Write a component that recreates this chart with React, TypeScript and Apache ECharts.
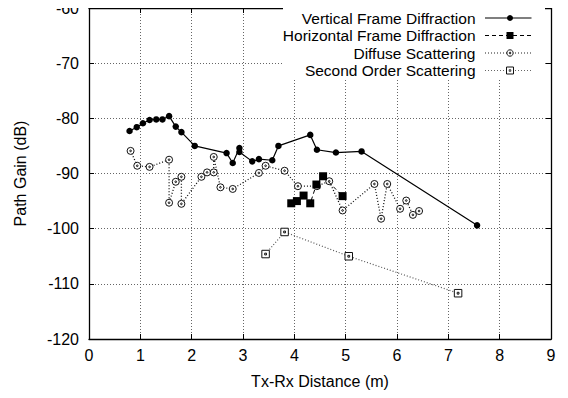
import React, { useEffect, useRef } from "react";
import * as echarts from "echarts";

const seriesNames = [
  "Vertical Frame Diffraction",
  "Horizontal Frame Diffraction",
  "Diffuse Scattering",
  "Second Order Scattering",
];

const verticalX = [0.79, 0.93, 1.05, 1.18, 1.31, 1.43, 1.56, 1.69, 1.8, 2.06, 2.68, 2.8, 2.93, 2.93, 3.18, 3.31, 3.57, 3.69, 4.31, 4.44, 4.81, 5.31, 7.56];
const verticalY = [-82.3, -81.6, -80.9, -80.3, -80.2, -80.2, -79.6, -81.5, -82.5, -85.0, -86.3, -88.1, -85.4, -86.1, -87.8, -87.4, -87.6, -85.0, -83.0, -85.7, -86.2, -86.0, -99.4];

const horizontalX = [3.94, 4.05, 4.18, 4.31, 4.43, 4.56, 4.94];
const horizontalY = [-95.4, -95.0, -94.0, -95.4, -92.0, -90.5, -94.1];

const diffuseX = [0.81, 0.94, 1.18, 1.56, 1.56, 1.69, 1.8, 1.8, 2.19, 2.3, 2.43, 2.43, 2.56, 2.8, 3.31, 3.44, 3.81, 4.07, 4.44, 4.68, 4.94, 5.56, 5.69, 5.81, 6.06, 6.18, 6.31, 6.43];
const diffuseY = [-85.9, -88.6, -88.8, -87.5, -95.3, -91.5, -90.6, -95.5, -90.6, -89.8, -89.8, -87.0, -92.5, -92.8, -89.9, -88.6, -89.5, -92.3, -92.3, -91.4, -96.7, -91.9, -98.2, -91.9, -96.4, -94.9, -97.5, -96.8];

const secondX = [3.44, 3.81, 5.06, 7.19];
const secondY = [-104.6, -100.6, -105.0, -111.7];

const xTicks = [0, 1, 2, 3, 4, 5, 6, 7, 8, 9];
const yTicks = [-120, -110, -100, -90, -80, -70, -60];

const FONT = "Liberation Sans, Arial, Helvetica, sans-serif";
const ringSymbol = "path://M0,-5A5,5 0 1,1 0,5A5,5 0 1,1 0,-5Z M0,-1.2A1.2,1.2 0 1,1 0,1.2A1.2,1.2 0 1,1 0,-1.2Z";
const boxSymbol = "path://M-5,-5L5,-5L5,5L-5,5Z M-1.2,-1.2L1.2,-1.2L1.2,1.2L-1.2,1.2Z";

const zip = (xs: number[], ys: number[]) => xs.map((x, i) => [x, ys[i]]);

export default function App() {
  const ref = useRef<HTMLDivElement>(null);
  useEffect(() => {
    if (!ref.current) return;
    const chart = echarts.init(ref.current, undefined, { renderer: "svg" });
    const gridLine = { show: true, lineStyle: { color: "#666", type: [1, 2] as any, width: 1 } };
    const axisLine = { show: true, onZero: false, lineStyle: { color: "#000", width: 1.3 } };
    const tick = { show: true, inside: true, length: 5, lineStyle: { color: "#000" } };
    const rows = [18, 35.5, 53, 70.5];
    const legendGraphics: any[] = [
      { type: "rect", z: 100, shape: { x: 283, y: 7, width: 262, height: 72 }, style: { fill: "#fff" } },
    ];
    const lineStyles = [
      { stroke: "#000", lineWidth: 1.2 },
      { stroke: "#000", lineWidth: 1, lineDash: [4, 3] },
      { stroke: "#222", lineWidth: 1.2, lineDash: [1, 2] },
      { stroke: "#666", lineWidth: 1.2, lineDash: [1, 2] },
    ];
    seriesNames.forEach((name, i) => {
      const y = rows[i];
      legendGraphics.push({
        type: "text", z: 101, x: 475.5, y,
        style: {
          text: name, fill: "#000", fontSize: 15.5, fontFamily: FONT, lineHeight: 15,
          align: "right", verticalAlign: "middle",
        },
      });
      legendGraphics.push({
        type: "line", z: 101, shape: { x1: 485, y1: y, x2: 531.5, y2: y }, style: lineStyles[i],
      });
    });
    legendGraphics.push({ type: "circle", z: 102, shape: { cx: 510, cy: rows[0], r: 3 }, style: { fill: "#000" } });
    legendGraphics.push({ type: "rect", z: 102, shape: { x: 506.5, y: rows[1] - 3.5, width: 7, height: 7 }, style: { fill: "#000" } });
    legendGraphics.push({ type: "circle", z: 102, shape: { cx: 510, cy: rows[2], r: 3.2 }, style: { fill: "#fff", stroke: "#111", lineWidth: 1 } });
    legendGraphics.push({ type: "circle", z: 103, shape: { cx: 510, cy: rows[2], r: 0.8 }, style: { fill: "none", stroke: "#111", lineWidth: 1 } });
    legendGraphics.push({ type: "rect", z: 102, shape: { x: 506.5, y: rows[3] - 3.5, width: 7, height: 7 }, style: { fill: "#fff", stroke: "#111", lineWidth: 1 } });
    legendGraphics.push({ type: "rect", z: 103, shape: { x: 509.2, y: rows[3] - 0.8, width: 1.6, height: 1.6 }, style: { fill: "none", stroke: "#111", lineWidth: 0.8 } });

    chart.setOption({
      animation: false,
      backgroundColor: "#fff",
      textStyle: { fontFamily: FONT },
      grid: { left: 89, right: 17, top: 6, bottom: 59, containLabel: false },
      xAxis: [
        {
          type: "value", min: 0, max: 9, interval: 1, position: "bottom",
          name: "Tx-Rx Distance (m)", nameLocation: "middle", nameGap: 34,
          nameTextStyle: { fontSize: 16, color: "#000", fontFamily: FONT },
          axisLine, axisTick: tick,
          axisLabel: { fontSize: 16, color: "#000", margin: 8, fontFamily: FONT },
          splitLine: gridLine,
          data: xTicks,
        },
        {
          type: "value", min: 0, max: 9, interval: 1, position: "top",
          axisLine, axisTick: tick, axisLabel: { show: false }, splitLine: { show: false },
        },
      ],
      yAxis: [
        {
          type: "value", min: -120, max: -60, interval: 10, position: "left",
          name: "Path Gain (dB)", nameLocation: "middle", nameGap: 61, nameRotate: 90,
          nameTextStyle: { fontSize: 16, color: "#000", fontFamily: FONT },
          axisLine, axisTick: tick,
          axisLabel: { fontSize: 16, color: "#000", margin: 10, fontFamily: FONT },
          splitLine: gridLine,
          data: yTicks,
        },
        {
          type: "value", min: -120, max: -60, interval: 10, position: "right",
          axisLine, axisTick: tick, axisLabel: { show: false }, splitLine: { show: false },
        },
      ],
      series: [
        {
          name: seriesNames[0], type: "line", data: zip(verticalX, verticalY),
          symbol: "circle", symbolSize: 6.5, showAllSymbol: true,
          lineStyle: { color: "#000", width: 1.2 }, itemStyle: { color: "#000" }, z: 5,
        },
        {
          name: seriesNames[1], type: "line", data: zip(horizontalX, horizontalY),
          symbol: "rect", symbolSize: 8, showAllSymbol: true,
          lineStyle: { color: "#000", width: 1, type: [4, 3] }, itemStyle: { color: "#000" }, z: 6,
        },
        {
          name: seriesNames[2], type: "line", data: zip(diffuseX, diffuseY),
          symbol: ringSymbol, symbolSize: 7, showAllSymbol: true,
          lineStyle: { color: "#111", width: 1.3, type: [1, 2] },
          itemStyle: { color: "#fff", borderColor: "#111", borderWidth: 1 }, z: 4,
        },
        {
          name: seriesNames[3], type: "line", data: zip(secondX, secondY),
          symbol: boxSymbol, symbolSize: 7.5, showAllSymbol: true,
          lineStyle: { color: "#555", width: 1.2, type: [1, 2] },
          itemStyle: { color: "#fff", borderColor: "#111", borderWidth: 1 }, z: 3,
        },
      ],
      graphic: legendGraphics,
    });
    return () => chart.dispose();
  }, []);
  return <div ref={ref} style={{ width: 568, height: 398, margin: -8 }} />;
}
